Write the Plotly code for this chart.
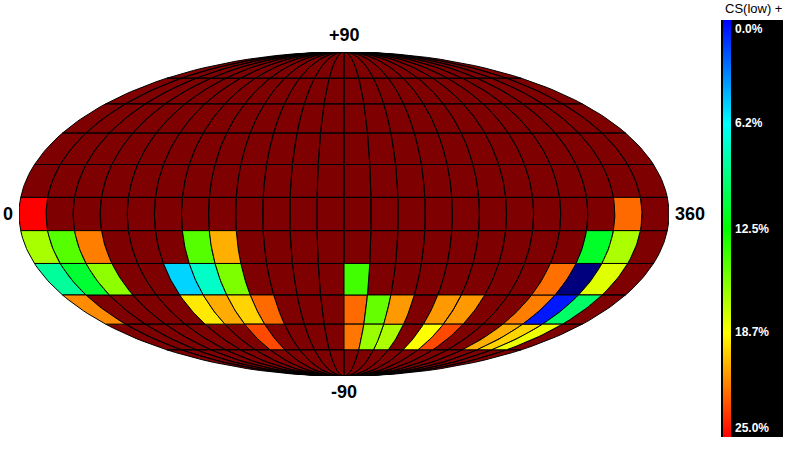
import numpy as np
import plotly.graph_objects as go
from plotly.colors import sample_colorscale

H = 28.125  # above-range cells (dark red)
L = -3.125  # below-range colour (navy)

lat_edges = [90, 67.5, 52.5, 37.5, 22.5, 7.5, -7.5, -22.5, -37.5, -52.5, -67.5, -90]
n_lon = 24

band_n = [H] * n_lon
band_eq = [25.0, H, H, H, H, H, H, H, H, H, H, H, H, H, H, H, H, H, H, H, H, H, 22.4, H]
band_s1 = [16.6, 14.6, 21.9, H, H, H, 14.6, 20.7, H, H, H, H, H, H, H, H, H, H, H, H, H, 11.5, 16.7, H]
band_s2 = [8.7, 11.25, 16.0, H, H, 5.2, 7.6, 15.6, H, H, H, H, 14.1, H, H, H, H, H, H, H, 22.25, L, 18.0, H]
band_s3 = [21.6, H, H, H, H, 19.3, 20.8, 19.8, 22.4, H, H, H, 22.4, 15.0, 21.25, H, 21.25, 21.25, H, H, 21.9, 0.6, 10.0, H]
band_s4 = [H, H, H, H, H, H, H, 23.2, H, H, H, H, 22.1, 16.25, 16.7, H, 18.75, 23.2, H, H, 20.7, 19.8, 18.3, H]
band_s5 = [H] * n_lon

bands = [band_n, band_n, band_n, band_n, band_n, band_eq,
         band_s1, band_s2, band_s3, band_s4, band_s5]

bar_ticks = [0, 6.2, 12.5, 18.7, 25]
bar_labels = ["0.0%", "6.2%", "12.5%", "18.7%", "25.0%"]

colorscale = [[0.0, "#00007f"], [0.1, "#0000ff"], [0.3, "#00ffff"], [0.5, "#00ff00"],
              [0.7, "#ffff00"], [0.9, "#ff0000"], [1.0, "#7f0000"]]

W, Hh = 789, 462
R2 = np.sqrt(2)


def mollweide(lon, lat):
    lon = np.radians(np.asarray(lon, float) - 180)
    phi = np.radians(np.asarray(lat, float))
    th = phi.copy()
    for _ in range(60):
        d = 2 + 2 * np.cos(2 * th)
        d = np.where(np.abs(d) < 1e-9, 1e-9, d)
        th = th - (2 * th + np.sin(2 * th) - np.pi * np.sin(phi)) / d
    th = np.where(np.abs(np.abs(phi) - np.pi / 2) < 1e-9, phi, th)
    return 2 * R2 / np.pi * lon * np.cos(th), R2 * np.sin(th)


def cell(lon0, lon1, lat0, lat1):
    lats = np.linspace(lat0, lat1, 14)
    lo = np.r_[np.full(14, lon0), np.full(14, lon1), lon0]
    la = np.r_[lats, lats[::-1], lat0]
    return mollweide(lo, la)


groups = {}
for r, row in enumerate(bands):
    for c, val in enumerate(row):
        x, y = cell(c * 15, (c + 1) * 15, lat_edges[r + 1], lat_edges[r])
        gx, gy = groups.setdefault(val, ([], []))
        gx.extend(x.tolist() + [None])
        gy.extend(y.tolist() + [None])

fig = go.Figure()
for val, (gx, gy) in groups.items():
    colour = sample_colorscale(colorscale, [(val - L) / (H - L)])[0]
    fig.add_trace(go.Scatter(x=gx, y=gy, mode="lines", fill="toself", fillcolor=colour,
                             line=dict(color="black", width=1), xaxis="x2", yaxis="y2",
                             hoverinfo="skip"))

strip = np.linspace(0, 25, 209)
fig.add_trace(go.Heatmap(z=[[float(v)] for v in (strip[:-1] + strip[1:]) / 2], y=strip, x=[2, 10],
                         coloraxis="coloraxis", xaxis="x", yaxis="y", hoverinfo="skip"))

ann = []
for t, lab in zip(bar_ticks, bar_labels):
    anchor = "top" if t == 0 else ("bottom" if t == 25 else "middle")
    ann.append(dict(x=12, y=t, xref="x", yref="y", text=lab, showarrow=False, xanchor="left",
                    yanchor=anchor, font=dict(color="white", size=12, family="Liberation Sans", weight="bold")))

lab_font = dict(color="black", size=18, family="Liberation Sans", weight="bold")
for txt, px, py in [("+90", 344, 35), ("-90", 344, 392), ("0", 8, 214), ("360", 690, 214)]:
    ann.append(dict(x=px / W, y=1 - py / Hh, xref="paper", yref="paper", text=txt, showarrow=False,
                    xanchor="center", yanchor="middle", font=lab_font))
ann.append(dict(x=753 / W, y=1 - 9 / Hh, xref="paper", yref="paper", text="CS(low) +", showarrow=False,
                xanchor="center", yanchor="middle",
                font=dict(color="black", size=13, family="Liberation Sans")))

fig.update_layout(
    template="none",
    width=W, height=Hh, margin=dict(l=0, r=0, t=0, b=0),
    paper_bgcolor="white", plot_bgcolor="white", showlegend=False,
    coloraxis=dict(colorscale=colorscale, cmin=L, cmax=H, showscale=False),
    xaxis=dict(domain=[721 / W, 783 / W], range=[0, 62], visible=False, fixedrange=True),
    yaxis=dict(domain=[1 - 437 / Hh, 1 - 20 / Hh], range=[25, 0], visible=False, fixedrange=True),
    xaxis2=dict(domain=[19 / W, 669 / W], range=[-2 * R2, 2 * R2], visible=False, fixedrange=True,
                anchor="y2"),
    yaxis2=dict(domain=[1 - 376 / Hh, 1 - 52 / Hh], range=[-R2, R2], visible=False, fixedrange=True,
                anchor="x2"),
    shapes=[dict(type="rect", xref="x domain", yref="y domain", x0=0, x1=1, y0=0, y1=1,
                 fillcolor="black", line=dict(width=0), layer="below")],
    annotations=ann,
)

fig.write_html("out.html", config={"displayModeBar": False},
               post_script="document.body.style.margin='0';")
